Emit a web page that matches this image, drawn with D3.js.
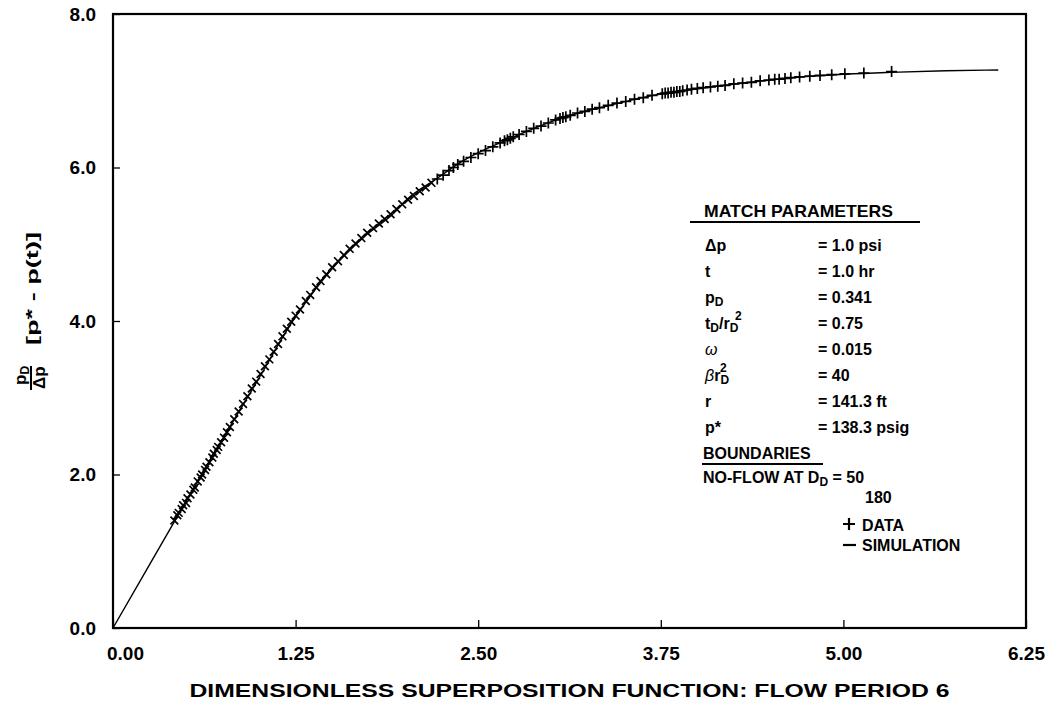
<!DOCTYPE html>
<html><head><meta charset="utf-8">
<script src="https://cdn.jsdelivr.net/npm/d3@7"></script>
<style>
body{margin:0;background:#fff;}
svg{display:block;font-family:"Liberation Sans",Arial,Helvetica,sans-serif;}
</style></head>
<body><svg id="c" width="1057" height="711"></svg>
<script>
// ---- data ----
const xTicks = [0, 1.25, 2.5, 3.75, 5.0, 6.25];
const yTicks = [0, 2, 4, 6, 8];
const simX = [0,0.20,0.44,0.60,0.85,1.05,1.14,1.22,1.33,1.50,1.74,1.92,2.01,2.22,2.38,2.72,3.08,3.40,3.70,3.79,4.10,4.41,4.79,5.32,5.70,6.06];
const simY = [0,0.66,1.45,1.98,2.78,3.42,3.72,3.97,4.27,4.68,5.13,5.40,5.58,5.86,6.07,6.38,6.65,6.81,6.94,6.97,7.05,7.12,7.19,7.24,7.26,7.27];
const dataX = [0.42,0.44,0.45,0.47,0.48,0.50,0.51,0.53,0.55,0.56,0.58,0.60,0.61,0.63,0.64,0.66,0.68,0.69,0.71,0.72,0.74,0.76,0.78,0.80,
 0.83,0.86,0.89,0.92,0.95,0.98,1.01,1.04,1.07,1.10,1.13,1.16,1.19,1.22,
 1.25,1.28,1.32,1.35,1.39,1.42,1.46,1.50,1.54,1.58,1.62,1.66,1.70,1.74,1.78,1.82,1.86,1.90,1.94,1.98,2.02,2.06,2.10,2.14,2.18,2.22,
 2.26,2.30,2.33,2.36,2.40,2.45,2.50,2.55,2.60,2.65,2.68,2.70,2.72,2.74,2.78,2.83,2.88,2.93,2.98,3.03,3.06,3.08,3.10,3.13,3.18,3.23,3.28,3.33,3.39,3.45,3.51,3.57,3.63,3.69,
 3.76,3.78,3.80,3.82,3.84,3.86,3.88,3.90,3.93,3.96,4.00,4.04,4.09,4.14,4.19,4.25,4.31,4.37,4.43,4.49,4.53,4.56,4.60,4.64,4.70,4.77,4.84,4.92,5.01,5.14,5.33];
const dataY = [1.40,1.47,1.50,1.55,1.60,1.63,1.69,1.74,1.80,1.83,1.91,1.96,2.00,2.06,2.10,2.16,2.22,2.27,2.32,2.36,2.42,2.48,2.55,2.62,
 2.72,2.82,2.92,3.02,3.12,3.21,3.31,3.41,3.50,3.60,3.70,3.80,3.90,3.99,
 4.07,4.15,4.26,4.34,4.44,4.52,4.61,4.70,4.78,4.86,4.94,5.01,5.08,5.15,5.21,5.27,5.33,5.39,5.46,5.52,5.58,5.63,5.69,5.74,5.80,5.85,
 5.90,5.96,6.00,6.04,6.08,6.13,6.18,6.22,6.27,6.32,6.35,6.36,6.38,6.40,6.43,6.47,6.51,6.54,6.58,6.62,6.64,6.65,6.66,6.68,6.71,6.73,6.76,6.78,6.81,6.84,6.86,6.89,6.91,6.94,
 6.96,6.97,6.97,6.98,6.98,6.99,6.99,7.00,7.01,7.02,7.03,7.04,7.05,7.06,7.07,7.09,7.10,7.11,7.13,7.14,7.15,7.15,7.16,7.17,7.18,7.19,7.20,7.21,7.22,7.23,7.25];
const xTitle = "DIMENSIONLESS SUPERPOSITION FUNCTION:  FLOW PERIOD 6";
const legendTitle = "MATCH PARAMETERS";
const paramValues = ["= 1.0 psi","= 1.0 hr","= 0.341","= 0.75","= 0.015","= 40","= 141.3 ft","= 138.3 psig"];
const boundaryTitle = "BOUNDARIES";
const boundaryValues = ["50","180"];
const legendItems = ["DATA","SIMULATION"];

// ---- chart ----
const svg = d3.select("#c");
const L=113,R=1026,T=14,B=628;
const x = d3.scaleLinear().domain([0,6.25]).range([L,R]);
const y = d3.scaleLinear().domain([0,8]).range([B,T]);

// axes
const ax = svg.append("g").attr("transform",`translate(0,${B})`)
  .call(d3.axisBottom(x).tickValues(xTicks).tickSize(-8).tickPadding(19).tickFormat(d3.format(".2f")));
const ay = svg.append("g").attr("transform",`translate(${L},0)`)
  .call(d3.axisLeft(y).tickValues(yTicks).tickSize(-7).tickPadding(17).tickFormat(d3.format(".1f")));
[ax,ay].forEach(g=>{
  g.select(".domain").remove();
  g.selectAll("line").attr("stroke","#000").attr("stroke-width",1.3);
  g.selectAll("text").attr("font-size",19).attr("font-weight","bold").attr("fill","#000")
   .attr("font-family","'Liberation Sans',Arial,sans-serif");
});
ax.selectAll(".tick text").filter(d=>d===0).attr("dx",12);
// frame
svg.append("rect").attr("x",L).attr("y",T).attr("width",R-L).attr("height",B-T)
  .attr("fill","none").attr("stroke","#000").attr("stroke-width",2.2);

// simulation line
const sim = simX.map((d,i)=>[d,simY[i]]);
svg.append("path").datum(sim)
  .attr("d",d3.line().x(d=>x(d[0])).y(d=>y(d[1])).curve(d3.curveMonotoneX))
  .attr("fill","none").attr("stroke","#000").attr("stroke-width",1.4);

// data markers
const pts = dataX.map((d,i)=>[d,dataY[i]]);
const s = 5.5;
svg.append("g").selectAll("path").data(pts).join("path")
  .attr("transform",d=>`translate(${x(d[0])},${y(d[1])}) rotate(${d[0]<2.2?45:0})`)
  .attr("d",`M${-s},0H${s}M0,${-s}V${s}`)
  .attr("stroke","#000").attr("stroke-width",1.7).attr("fill","none");

// x title
svg.append("text").attr("x",(L+R)/2).attr("y",697).attr("text-anchor","middle")
  .attr("font-size",18).attr("font-weight","bold").attr("textLength",760).attr("lengthAdjust","spacingAndGlyphs")
  .text(xTitle);

// y title (rotated)
const yt = svg.append("g").attr("transform","translate(31,378) rotate(-90)")
  .attr("font-weight","bold").attr("font-size",17);
yt.append("text").attr("x",-7).attr("y",-5).text("p").append("tspan").attr("font-size",12).attr("dy",3).text("D");
yt.append("line").attr("x1",-12).attr("x2",12).attr("y1",0).attr("y2",0).attr("stroke","#000").attr("stroke-width",2);
yt.append("text").attr("x",-11).attr("y",14).text("\u0394p");
yt.append("text").attr("x",33).attr("y",7).attr("textLength",113).attr("lengthAdjust","spacingAndGlyphs")
  .text("[p* - p(t)]");

// legend
const lg = svg.append("g").attr("font-weight","bold").attr("font-size",16).attr("fill","#000");
lg.append("text").attr("x",704).attr("y",217).attr("font-size",17).attr("textLength",189).attr("lengthAdjust","spacingAndGlyphs").text(legendTitle);
lg.append("line").attr("x1",690).attr("x2",920).attr("y1",222).attr("y2",222).attr("stroke","#000").attr("stroke-width",2);
const rowY = i=>251+i*26;
const nx = 705, vx = 818;
let t;
lg.append("text").attr("x",nx).attr("y",rowY(0)).text("\u0394p");
lg.append("text").attr("x",nx).attr("y",rowY(1)).text("t");
t = lg.append("text").attr("x",nx).attr("y",rowY(2)).text("p");
t.append("tspan").attr("font-size",12).attr("dy",3).text("D");
t = lg.append("text").attr("x",nx).attr("y",rowY(3)).text("t");
t.append("tspan").attr("font-size",12).attr("dy",3).text("D");
t.append("tspan").attr("dy",-3).text("/r");
t.append("tspan").attr("font-size",12).attr("dy",3).text("D");
lg.append("text").attr("x",nx+30).attr("y",rowY(3)-9).attr("font-size",12).text("2");
lg.append("text").attr("x",nx).attr("y",rowY(4)).attr("font-style","italic").attr("font-weight","normal").text("\u03c9");
t = lg.append("text").attr("x",nx).attr("y",rowY(5));
t.append("tspan").attr("font-style","italic").attr("font-weight","normal").text("\u03b2");
t.append("tspan").text("r");
t.append("tspan").attr("font-size",12).attr("dy",3).text("D");
lg.append("text").attr("x",nx+15).attr("y",rowY(5)-9).attr("font-size",12).text("2");
lg.append("text").attr("x",nx).attr("y",rowY(6)).text("r");
lg.append("text").attr("x",nx).attr("y",rowY(7)).text("p*");
paramValues.forEach((v,i)=>lg.append("text").attr("x",vx).attr("y",rowY(i)).text(v));
lg.append("text").attr("x",703).attr("y",459).text(boundaryTitle);
lg.append("line").attr("x1",702).attr("x2",823).attr("y1",464).attr("y2",464).attr("stroke","#000").attr("stroke-width",2);
t = lg.append("text").attr("x",703).attr("y",483).text("NO-FLOW AT D");
t.append("tspan").attr("font-size",12).attr("dy",3).text("D");
t.append("tspan").attr("dy",-3).text(" = "+boundaryValues[0]);
lg.append("text").attr("x",865).attr("y",503).text(boundaryValues[1]);
lg.append("path").attr("d","M843,524H855M849,518V530").attr("stroke","#000").attr("stroke-width",2.2);
lg.append("text").attr("x",862).attr("y",531).text(legendItems[0]);
lg.append("path").attr("d","M843,545H856").attr("stroke","#000").attr("stroke-width",2.2);
lg.append("text").attr("x",862).attr("y",551).text(legendItems[1]);
</script></body></html>
